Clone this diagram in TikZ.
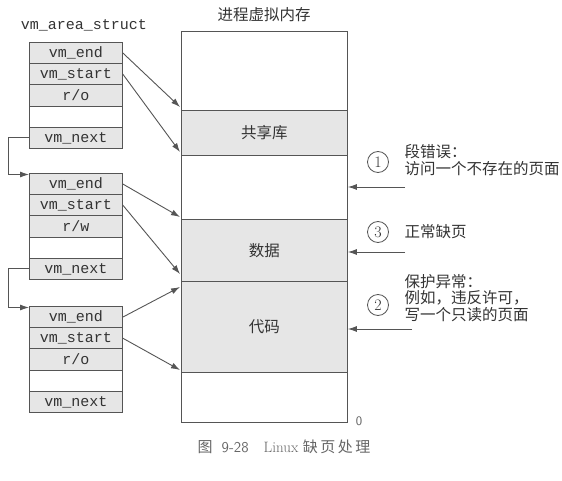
\documentclass[tikz,border=0pt]{standalone}
\usepackage{fontspec}
\setmonofont{Liberation Mono}
\newfontfamily\cjk{Noto Sans CJK SC}
\usetikzlibrary{arrows.meta}

\definecolor{ink}{HTML}{333333}
\definecolor{edge}{HTML}{555555}
\definecolor{shade}{HTML}{E6E6E6}

\begin{document}
\begin{tikzpicture}[x=1pt,y=-1pt,
  field/.style={draw=edge, line width=0.9pt, fill=shade, anchor=north west,
    minimum width=93pt, minimum height=21.2pt, inner sep=0pt,
    text=ink, font=\ttfamily\fontsize{15}{18}\selectfont},
  blankfield/.style={field, fill=white},
  region/.style={draw=edge, line width=0.9pt, anchor=north west,
    minimum width=166pt, inner sep=0pt, text=ink,
    font=\cjk\fontsize{15.5}{18}\selectfont},
  ptr/.style={draw=edge, line width=0.9pt, -{Latex[length=9pt,width=6pt]}},
  fault/.style={draw=edge, line width=0.9pt, -{Latex[length=9pt,width=6pt]}},
  circnum/.style={circle, draw=edge, line width=0.8pt, minimum size=21pt,
    inner sep=0pt, text=ink, font=\fontsize{16}{18}\selectfont},
  note/.style={anchor=west, align=left, text=ink,
    font=\cjk\fontsize{15.5}{16.7}\selectfont},
]
\useasboundingbox[fill=white] (0,0) rectangle (562,481);

% list of vm_area_struct records
\node[text=ink, font=\ttfamily\fontsize{15}{18}\selectfont] (structtitle) at (84,25) {vm\_area\_struct};
\foreach \g/\t/\p in {1/42/{r/o}, 2/173/{r/w}, 3/306/{r/o}} {
  \node[field]      (s\g-end)   at (29,\t)          {vm\_end};
  \node[field]      (s\g-start) at (29,\t+21.2)     {vm\_start};
  \node[field]      (s\g-perm)  at (29,\t+42.4)     {\p};
  \node[blankfield] (s\g-blank) at (29,\t+63.6)     {};
  \node[field]      (s\g-next)  at (29,\t+84.8)     {vm\_next};
}

% vm_next links
\draw[ptr] (s1-next.west) -- ++(-21,0) |- ([yshift=-1.5pt]s2-end.north west);
\draw[ptr] (s2-next.west) -- ++(-21,0) |- ([yshift=-1.5pt]s3-end.north west);

% process virtual memory
\node[text=ink, font=\cjk\fontsize{15.5}{18}\selectfont] (memtitle) at (264,15) {进程虚拟内存};
\node[region, minimum height=79pt, fill=white] (memtop) at (181,31)  {};
\node[region, minimum height=45pt, fill=shade] (shlib)  at (181,110) {共享库};
\node[region, minimum height=64pt, fill=white] (gap)    at (181,155) {};
\node[region, minimum height=62pt, fill=shade] (data)   at (181,219) {数据};
\node[region, minimum height=91pt, fill=shade] (code)   at (181,281) {代码};
\node[region, minimum height=50pt, fill=white] (membot) at (181,372) {};
\node[text=ink!80, font=\sffamily\fontsize{13}{15}\selectfont] (zero) at (359,421) {0};

% region bounds
\draw[ptr] (s1-end.east)   -- ([shift={(-1pt,3pt)}]shlib.north west);
\draw[ptr] (s1-start.east) -- ([shift={(-1pt,3pt)}]gap.north west);
\draw[ptr] (s2-end.east)   -- ([shift={(-1pt,2pt)}]data.north west);
\draw[ptr] (s2-start.east) -- ([shift={(-1pt,7pt)}]code.north west);
\draw[ptr] (s3-end.east)   -- ([shift={(-1pt,-6pt)}]code.north west);
\draw[ptr] (s3-start.east) -- ([shift={(-1pt,2pt)}]membot.north west);

% page faults
\node[circnum] (c1) at (378,162) {1};
\node[note] (n1) at (401,160) {段错误：\\访问一个不存在的页面};
\coordinate (f1) at (405,187);
\draw[fault] (f1) -- (f1 -| gap.east);

\node[circnum] (c3) at (378,232) {3};
\node[note] (n3) at (401,232) {正常缺页};
\coordinate (f3) at (405,252);
\draw[fault] (f3) -- (f3 -| data.east);

\node[circnum] (c2) at (378,305) {2};
\node[note] (n2) at (401,298) {保护异常：\\例如，违反许可，\\写一个只读的页面};
\coordinate (f2) at (412,329);
\draw[fault] (f2) -- (f2 -| code.east);

% caption
\node[text=black!60, font=\fontsize{15}{17}\selectfont] (caption) at (284,447)
  {{\cjk 图}\ \ {\sffamily 9-28}\quad Linux {\cjk 缺\,页\,处\,理}};
\end{tikzpicture}
\end{document}
